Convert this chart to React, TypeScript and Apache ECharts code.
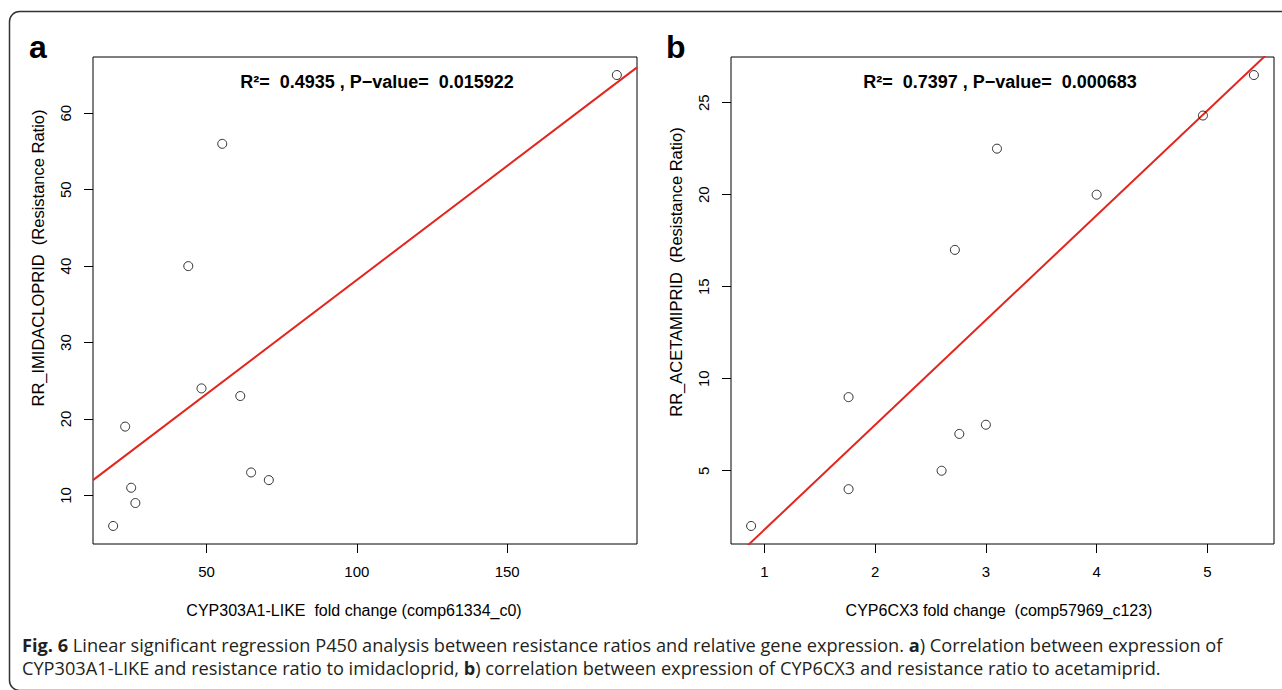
import React, { useEffect, useRef } from "react";
import * as echarts from "echarts";

// Panel a: CYP303A1-LIKE fold change vs RR imidacloprid
const aX = [18.9, 22.9, 24.9, 26.3, 43.9, 48.3, 55.2, 61.2, 64.8, 70.7, 186.5];
const aY = [6, 19, 11, 9, 40, 24, 56, 23, 13, 12, 65];
// Panel b: CYP6CX3 fold change vs RR acetamiprid
const bX = [0.88, 1.76, 1.76, 2.6, 2.72, 2.76, 3.0, 3.1, 4.0, 4.96, 5.42];
const bY = [2, 9, 4, 5, 17, 7, 7.5, 22.5, 20, 24.3, 26.5];

const aXTicks = [50, 100, 150];
const aYTicks = [10, 20, 30, 40, 50, 60];
const bXTicks = [1, 2, 3, 4, 5];
const bYTicks = [5, 10, 15, 20, 25];

const aXName = "CYP303A1-LIKE  fold change (comp61334_c0)";
const aYName = "RR_IMIDACLOPRID  (Resistance Ratio)";
const bXName = "CYP6CX3 fold change  (comp57969_c123)";
const bYName = "RR_ACETAMIPRID  (Resistance Ratio)";
const aStats = "R²=  0.4935 , P−value=  0.015922";
const bStats = "R²=  0.7397 , P−value=  0.000683";

const captionLine1 =
  "{b|Fig. 6} Linear significant regression P450 analysis between resistance ratios and relative gene expression. {b|a}) Correlation between expression of";
const captionLine2 =
  "CYP303A1-LIKE and resistance ratio to imidacloprid, {b|b}) correlation between expression of CYP6CX3 and resistance ratio to acetamiprid.";

const FONT = "'Liberation Sans', Arial, Helvetica, sans-serif";
const CAPFONT = "'Open Sans', 'Liberation Sans', sans-serif";
const RED = "#e2261d";

function padRange(v: number[]): [number, number] {
  const mn = Math.min(...v);
  const mx = Math.max(...v);
  const r = mx - mn;
  return [mn - 0.04 * r, mx + 0.04 * r];
}

function fit(xs: number[], ys: number[]) {
  const n = xs.length;
  const mx = xs.reduce((s, v) => s + v, 0) / n;
  const my = ys.reduce((s, v) => s + v, 0) / n;
  let sxy = 0;
  let sxx = 0;
  for (let i = 0; i < n; i++) {
    sxy += (xs[i] - mx) * (ys[i] - my);
    sxx += (xs[i] - mx) * (xs[i] - mx);
  }
  const slope = sxy / sxx;
  return { slope, intercept: my - slope * mx };
}

function xAxisCfg(grid: number, range: [number, number], ticks: number[]) {
  return {
    type: "value",
    gridIndex: grid,
    min: range[0],
    max: range[1],
    axisLine: { show: false },
    splitLine: { show: false },
    axisTick: { show: true, length: 9, customValues: ticks, lineStyle: { color: "#000", width: 1 } },
    axisLabel: { customValues: ticks, margin: 20, fontSize: 15, color: "#000", fontFamily: FONT },
  };
}

function yAxisCfg(grid: number, range: [number, number], ticks: number[]) {
  return {
    type: "value",
    gridIndex: grid,
    min: range[0],
    max: range[1],
    axisLine: { show: false },
    splitLine: { show: false },
    axisTick: { show: true, length: 9, customValues: ticks, lineStyle: { color: "#000", width: 1 } },
    axisLabel: { customValues: ticks, rotate: 90, margin: 20, fontSize: 15, color: "#000", fontFamily: FONT },
  };
}

function nameText(text: string, x: number, y: number, vertical: boolean, size: number) {
  return {
    type: "text",
    x,
    y,
    rotation: vertical ? Math.PI / 2 : 0,
    style: {
      text,
      font: `${size}px ${FONT}`,
      fill: "#000",
      textAlign: "center",
      textVerticalAlign: "middle",
    },
    silent: true,
  };
}

export default function App() {
  const ref = useRef<HTMLDivElement>(null);
  useEffect(() => {
    if (!ref.current) return;
    document.body.style.margin = "0";
    const chart = echarts.init(ref.current, null, { renderer: "svg" });

    const axr = padRange(aX);
    const ayr = padRange(aY);
    const bxr = padRange(bX);
    const byr = padRange(bY);
    const fa = fit(aX, aY);
    const fb = fit(bX, bY);

    const pts = (xs: number[], ys: number[]) => xs.map((x, i) => [x, ys[i]]);
    const lineData = (f: { slope: number; intercept: number }, r: [number, number]) => [
      [r[0], f.intercept + f.slope * r[0]],
      [r[1], f.intercept + f.slope * r[1]],
    ];

    const scatterStyle = {
      type: "scatter",
      symbol: "circle",
      symbolSize: 9,
      itemStyle: { color: "rgba(0,0,0,0)", borderColor: "#000", borderWidth: 1 },
      silent: true,
      z: 3,
    };
    const lineStyle = {
      type: "line",
      showSymbol: false,
      symbol: "none",
      clip: true,
      lineStyle: { color: RED, width: 2 },
      silent: true,
      z: 2,
    };

    const capStyle = (text: string) => ({
      text,
      fontFamily: CAPFONT,
      fontSize: 18.2,
      fill: "#231f20",
      textVerticalAlign: "middle",
      rich: { b: { fontWeight: "bold", fontFamily: CAPFONT, fontSize: 18.2, fill: "#231f20" } },
    });

    chart.setOption({
      animation: false,
      backgroundColor: "#fff",
      grid: [
        { left: 93, top: 57, width: 544, height: 487, show: true, borderColor: "#000", borderWidth: 1, backgroundColor: "transparent", containLabel: false, outerBoundsMode: "none" },
        { left: 731, top: 57, width: 543, height: 487, show: true, borderColor: "#000", borderWidth: 1, backgroundColor: "transparent", containLabel: false, outerBoundsMode: "none" },
      ],
      xAxis: [xAxisCfg(0, axr, aXTicks), xAxisCfg(1, bxr, bXTicks)],
      yAxis: [yAxisCfg(0, ayr, aYTicks), yAxisCfg(1, byr, bYTicks)],
      series: [
        { ...lineStyle, xAxisIndex: 0, yAxisIndex: 0, data: lineData(fa, axr) },
        { ...scatterStyle, xAxisIndex: 0, yAxisIndex: 0, data: pts(aX, aY) },
        { ...lineStyle, xAxisIndex: 1, yAxisIndex: 1, data: lineData(fb, bxr) },
        { ...scatterStyle, xAxisIndex: 1, yAxisIndex: 1, data: pts(bX, bY) },
      ],
      graphic: [
        {
          type: "rect",
          shape: { x: 9.5, y: 11.5, width: 1300, height: 679, r: 10 },
          style: { fill: "none", stroke: "#333", lineWidth: 1.5 },
          silent: true,
        },
        {
          type: "text",
          x: 29,
          y: 31,
          style: { text: "a", font: `bold 32px ${FONT}`, fill: "#000", textVerticalAlign: "top" },
        },
        {
          type: "text",
          x: 666,
          y: 31,
          style: { text: "b", font: `bold 32px ${FONT}`, fill: "#000", textVerticalAlign: "top" },
        },
        {
          type: "text",
          x: 377,
          y: 82,
          style: { text: aStats, font: `bold 18px ${FONT}`, fill: "#000", textAlign: "center", textVerticalAlign: "middle" },
        },
        {
          type: "text",
          x: 1000,
          y: 82,
          style: { text: bStats, font: `bold 18px ${FONT}`, fill: "#000", textAlign: "center", textVerticalAlign: "middle" },
        },
        nameText(aXName, 354, 610, false, 16),
        nameText(bXName, 999, 610, false, 16),
        nameText(aYName, 38, 258, true, 16.5),
        nameText(bYName, 676, 272, true, 16.5),
        { type: "text", x: 22, y: 645, style: capStyle(captionLine1), silent: true },
        { type: "text", x: 22, y: 668, style: capStyle(captionLine2), silent: true },
      ],
    });
    return () => chart.dispose();
  }, []);
  return <div ref={ref} style={{ position: "absolute", left: 0, top: 0, width: 1282, height: 690 }} />;
}
